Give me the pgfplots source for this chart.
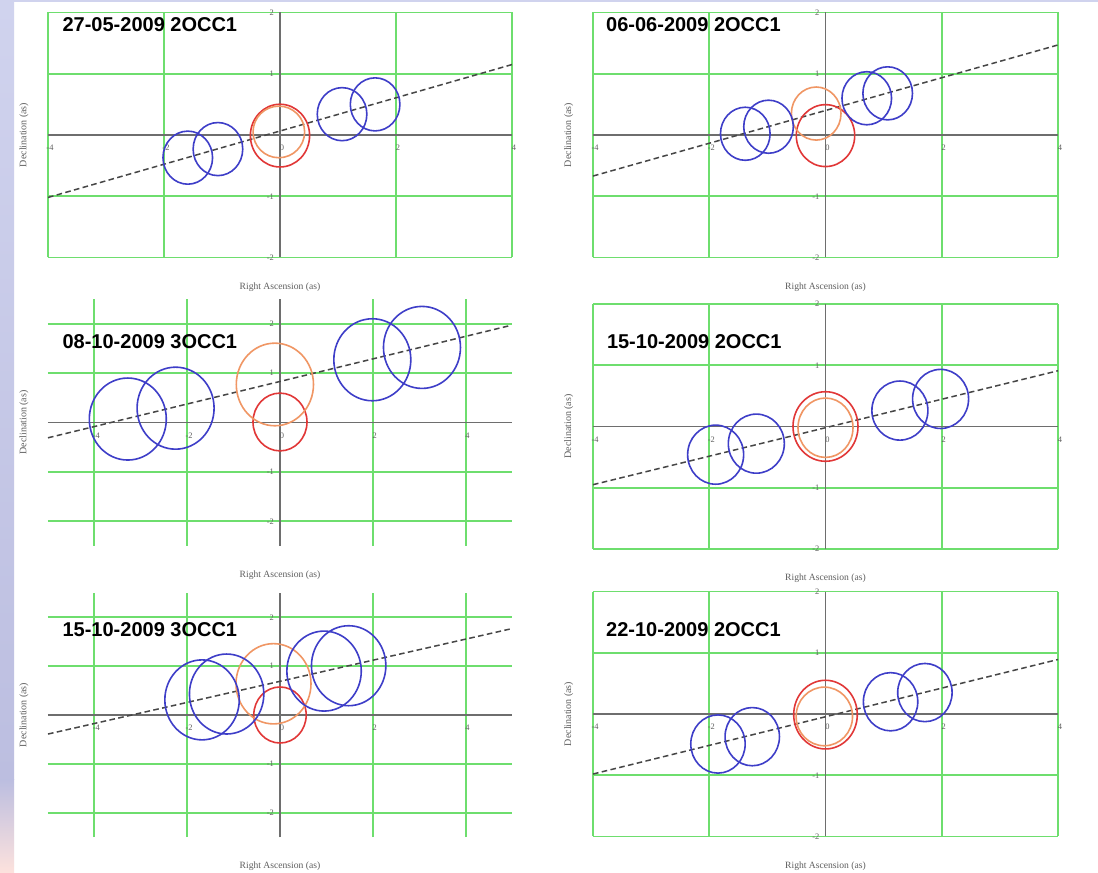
\documentclass[border=0pt]{standalone}
\usepackage{fontspec}
\setmainfont{Liberation Serif}
\newfontfamily\titlefont{Liberation Sans}
\usepackage{pgfplots}
\pgfplotsset{compat=1.18}
\definecolor{circblue}{RGB}{62,62,200}
\definecolor{circred}{RGB}{225,55,55}
\definecolor{circorange}{RGB}{240,150,100}
\definecolor{gridgreen}{RGB}{110,222,110}
\definecolor{axgray}{RGB}{110,110,110}
\definecolor{dashgray}{RGB}{70,70,70}
\definecolor{labgray}{RGB}{95,95,95}
\definecolor{stripA}{RGB}{208,211,238}
\definecolor{stripB}{RGB}{188,190,224}
\definecolor{stripC}{RGB}{253,226,221}
\pgfplotsset{
  panel/.style={
    scale only axis,
    anchor=south west,
    axis lines=middle,
    enlargelimits=false,
    clip=false,
    axis line style={-, draw=axgray, line width=0.85pt},
    grid=major,
    grid style={draw=gridgreen, line width=0.95pt},
    major grid style={draw=gridgreen, line width=0.95pt},
    major tick length=0pt,
    tick label style={font=\fontsize{4.2}{4.5}\selectfont, text=labgray},
    xticklabel style={anchor=north, yshift=-1.5pt, xshift=1pt},
    yticklabel style={anchor=east, xshift=0.5pt},
    hide obscured x ticks=false,
    hide obscured y ticks=false,
    ytick={-2,-1,1,2},
    xticklabels={-4,-2,0,2,4},
    yticklabels={-2,-1,1,2},
    xlabel={Right Ascension (as)},
    ylabel={Declination (as)},
    every axis x label/.style={at={(axis description cs:0.5,-0.12)}, anchor=center, font=\fontsize{4.8}{5}\selectfont, text=labgray},
    every axis y label/.style={at={(axis description cs:-0.052,0.5)}, anchor=center, rotate=90, font=\fontsize{5}{5}\selectfont, text=labgray},
  },
  narrow/.style={panel, xmin=-4, xmax=4, ymin=-2, ymax=2, xtick={-4,-2,0,2,4}},
  wide/.style={panel, xmin=-5, xmax=5, ymin=-2.5, ymax=2.5, xtick={-4,-2,0,2,4}},
  blue circ/.style={only marks, mark=o, draw=circblue, line width=0.8pt},
  red circ/.style={only marks, mark=o, draw=circred, line width=0.8pt},
  orange circ/.style={only marks, mark=o, draw=circorange, line width=0.8pt},
  trend/.style={no marks, draw=dashgray, line width=0.75pt, dash pattern=on 2.8pt off 1.7pt},
}
\begin{document}
\begin{tikzpicture}
\path[use as bounding box] (0,0) rectangle (549pt,436.5pt);
\fill[white] (0,0) rectangle (549pt,436.5pt);
\fill[stripA] (0,435.5pt) rectangle (549pt,436.5pt);
\shade[top color=stripA, bottom color=stripB] (0,46.5pt) rectangle (7pt,436.5pt);
\shade[top color=stripB, bottom color=stripC] (0,0) rectangle (7pt,46.5pt);

% Panel 1: 27-05-2009 2OCC1
\begin{axis}[narrow, at={(24pt,307.75pt)}, width=232pt, height=122.5pt]
\addplot[trend] coordinates {(-4,-1.02) (4,1.15)};
\addplot[red circ, mark size=14.8pt, mark options={yscale=1.06}] coordinates {(0,-0.01)};
\addplot[orange circ, mark size=12.9pt, mark options={yscale=1.0}] coordinates {(-0.02,0.05)};
\addplot[blue circ, mark size=12.4pt, mark options={yscale=1.07}] coordinates {(-1.59,-0.37) (-1.07,-0.23) (1.07,0.34) (1.64,0.50)};
\end{axis}

% Panel 2: 06-06-2009 2OCC1
\begin{axis}[narrow, at={(296.5pt,307.75pt)}, width=232.5pt, height=122.5pt]
\addplot[trend] coordinates {(-4,-0.67) (4,1.47)};
\addplot[red circ, mark size=14.6pt, mark options={yscale=1.06}] coordinates {(0,-0.01)};
\addplot[orange circ, mark size=12.4pt, mark options={yscale=1.07}] coordinates {(-0.16,0.35)};
\addplot[blue circ, mark size=12.4pt, mark options={yscale=1.07}] coordinates {(-1.38,0.02) (-0.98,0.135) (0.71,0.60) (1.07,0.68)};
\end{axis}

% Panel 3: 08-10-2009 3OCC1
\begin{axis}[wide, at={(24pt,163.5pt)}, width=232pt, height=123.5pt]
\addplot[trend] coordinates {(-5,-0.31) (4.95,1.96)};
\addplot[red circ, mark size=13.5pt, mark options={yscale=1.07}] coordinates {(0,0.01)};
\addplot[orange circ, mark size=19.3pt, mark options={yscale=1.07}] coordinates {(-0.11,0.77)};
\addplot[blue circ, mark size=19.25pt, mark options={yscale=1.065}] coordinates {(-3.28,0.07) (-2.25,0.29) (1.99,1.27) (3.06,1.52)};
\end{axis}

% Panel 4: 15-10-2009 2OCC1
\begin{axis}[narrow, at={(296.5pt,162pt)}, width=232.5pt, height=122.5pt]
\addplot[trend] coordinates {(-4,-0.95) (4,0.91)};
\addplot[red circ, mark size=16.25pt, mark options={yscale=1.07}] coordinates {(0,0)};
\addplot[orange circ, mark size=13.75pt, mark options={yscale=1.08}] coordinates {(0,-0.02)};
\addplot[blue circ, mark size=14pt, mark options={yscale=1.055}] coordinates {(-1.89,-0.46) (-1.19,-0.28) (1.28,0.26) (1.98,0.45)};
\end{axis}

% Panel 5: 15-10-2009 3OCC1
\begin{axis}[wide, at={(24pt,18pt)}, width=232pt, height=122pt]
\addplot[trend] coordinates {(-5,-0.39) (4.95,1.76)};
\addplot[red circ, mark size=13.1pt, mark options={yscale=1.07}] coordinates {(0,0)};
\addplot[orange circ, mark size=18.75pt, mark options={yscale=1.07}] coordinates {(-0.14,0.64)};
\addplot[blue circ, mark size=18.6pt, mark options={yscale=1.075}] coordinates {(-1.68,0.31) (-1.15,0.43) (0.95,0.90) (1.48,1.01)};
\end{axis}

% Panel 6: 22-10-2009 2OCC1
\begin{axis}[narrow, at={(296.5pt,18.25pt)}, width=232.5pt, height=122.5pt]
\addplot[trend] coordinates {(-4,-0.98) (4,0.89)};
\addplot[red circ, mark size=15.9pt, mark options={yscale=1.08}] coordinates {(0,-0.01)};
\addplot[orange circ, mark size=14.1pt, mark options={yscale=1.04}] coordinates {(-0.02,-0.04)};
\addplot[blue circ, mark size=13.6pt, mark options={yscale=1.07}] coordinates {(-1.85,-0.49) (-1.26,-0.37) (1.12,0.20) (1.71,0.35)};
\end{axis}

% Panel titles
\begin{scope}[every node/.style={anchor=base west, inner sep=0pt, font=\titlefont\bfseries\fontsize{10}{12}\selectfont}]
\node at (31.1pt,420.5pt) {27-05-2009 2OCC1};
\node at (302.9pt,420.5pt) {06-06-2009 2OCC1};
\node at (31.1pt,262pt) {08-10-2009 3OCC1};
\node at (303.3pt,262pt) {15-10-2009 2OCC1};
\node at (31.1pt,118pt) {15-10-2009 3OCC1};
\node at (302.9pt,118pt) {22-10-2009 2OCC1};
\end{scope}
\end{tikzpicture}
\end{document}
